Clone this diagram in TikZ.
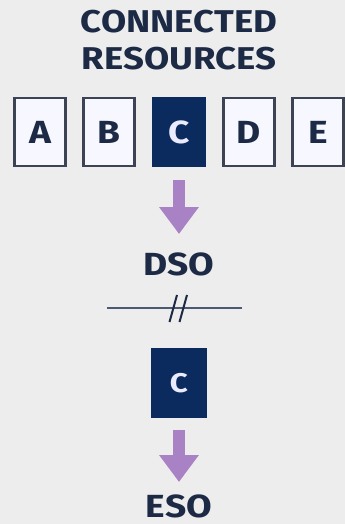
\documentclass[tikz,border=0pt]{standalone}
\usepackage{fontspec}
\setmainfont{Fira Sans}[FakeStretch=1.16]
\usetikzlibrary{arrows.meta}
\definecolor{bg}{HTML}{EDEDED}
\definecolor{ink}{HTML}{1C2A45}
\definecolor{navy}{HTML}{0B2A5E}
\definecolor{frame}{HTML}{3B4354}
\definecolor{lilac}{HTML}{A882C4}
\definecolor{rule}{HTML}{4A5A72}
\tikzset{
  title/.style={text=ink, font=\bfseries\fontsize{31.5}{31.5}\selectfont, anchor=base, inner sep=0pt},
  label/.style={text=ink, font=\bfseries\fontsize{32}{32}\selectfont, anchor=base, inner sep=0pt},
  resbox/.style={draw=frame, fill=white!97!blue, line width=2.2pt, minimum width=51pt, minimum height=68pt,
    inner sep=0pt, text=ink, font=\bfseries\fontsize{32}{32}\selectfont},
  selbox/.style={resbox, draw=navy, fill=navy, text=white!92!blue},
  flow/.style={draw=lilac, line width=12pt, -{Triangle[width=38pt,length=27pt]}},
  slash/.style={draw=ink, line width=2pt},
}
\begin{document}
\begin{tikzpicture}[x=1pt,y=-1pt]
\fill[bg] (0,0) rectangle (345,524);
\useasboundingbox (0,0) rectangle (345,524);

% heading
\node[title] (t1) at (179,33) {CONNECTED};
\node[title] (t2) at (179,70) {RESOURCES};

% row of connected resources
\node[resbox] (a) at (40,132) {A};
\node[resbox] (b) at (109,132) {B};
\node[selbox] (c) at (179,132) {C};
\node[resbox] (d) at (249,132) {D};
\node[resbox] (e) at (318,132) {E};

% DSO
\node[label] (dso) at (179,275) {DSO};
\draw[flow] (c.south) ++(0,13) coordinate (c1) -- (179,234) coordinate (c2);

% boundary with break marks
\coordinate (l1) at (107,308);
\coordinate (l2) at (242,308);
\draw[draw=rule, line width=2.2pt] (l1) -- (l2);
\draw[slash] (169.5,322) -- (177,295);
\draw[slash] (179.5,322) -- (187,295);

% ESO
\node[selbox, minimum width=53pt, minimum height=68pt, font=\bfseries\fontsize{27}{27}\selectfont] (c2box) at (179,383) {C};
\node[label] (eso) at (179,517) {ESO};
\draw[flow] (c2box.south) ++(0,12) -- (179,482);
\end{tikzpicture}
\end{document}
